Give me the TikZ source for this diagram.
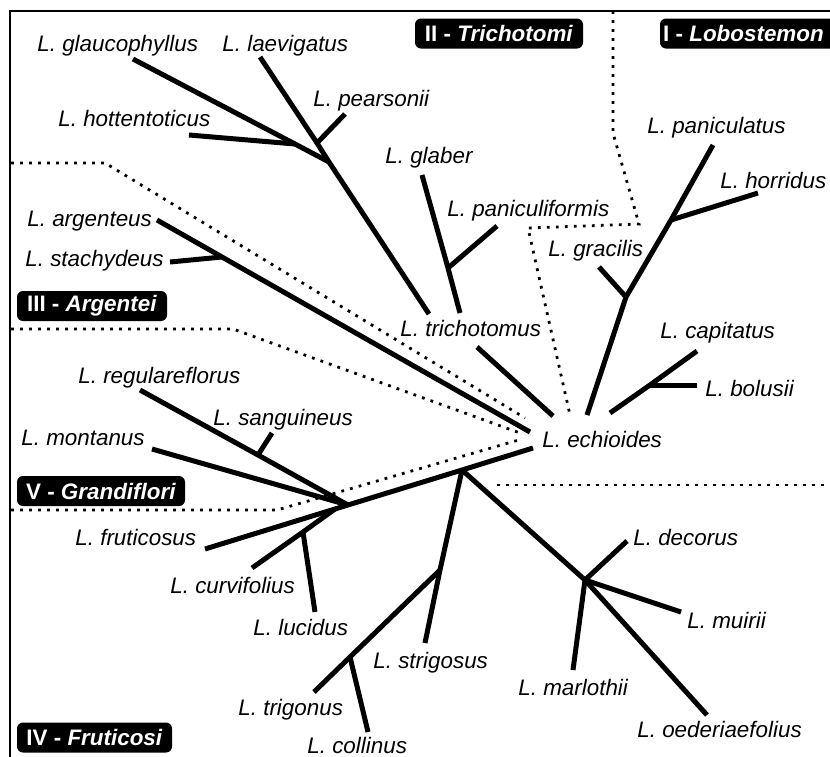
\documentclass[tikz,border=0pt]{standalone}
\usepackage{fontspec}
\setmainfont{Liberation Sans}
\begin{document}
\begin{tikzpicture}[x=0.5pt,y=-0.5pt,
  branch/.style={line width=2.5pt},
  sep/.style={line width=1.4pt, dash pattern=on 1.4pt off 3.1pt},
  frame/.style={line width=0.6pt},
  lab/.style={anchor=base west, inner sep=0pt, font=\fontsize{11.2pt}{13pt}\selectfont\itshape},
  grp/.style={fill=black, text=white, rounded corners=3pt, minimum height=15pt, inner sep=0pt,
    font=\fontsize{11.2pt}{13pt}\selectfont\bfseries}]
\useasboundingbox (0,0) rectangle (830,756);
\clip (0,0) rectangle (830,756);

% frame
\coordinate (fBL) at (10,760);
\coordinate (fTL) at (10,11);
\coordinate (fTR) at (834,11);
\draw[frame] (fBL) -- (fTL) -- (fTR);

% separators
\coordinate (d1a) at (613,11);
\coordinate (d1b) at (613,133);
\coordinate (d1c) at (639,224);
\coordinate (d1d) at (528,228);
\coordinate (d1e) at (570,415);
\draw[sep] (d1a) -- (d1b) -- (d1c) -- (d1d) -- (d1e);
\coordinate (d2a) at (11,163);
\coordinate (d2b) at (105,163);
\coordinate (d2c) at (525,418);
\draw[sep] (d2a) -- (d2b) -- (d2c);
\coordinate (d3a) at (11,329);
\coordinate (d3b) at (233,329);
\coordinate (d3c) at (520,433);
\draw[sep] (d3a) -- (d3b) -- (d3c);
\coordinate (d4a) at (11,510);
\coordinate (d4b) at (277,510);
\coordinate (d4c) at (522,439);
\draw[sep] (d4a) -- (d4b) -- (d4c);
\coordinate (d5a) at (497,485);
\coordinate (d5b) at (834,485);
\draw[sep] (d5a) -- (d5b);

% group labels
\node[grp, minimum width=84pt] (gII) at (499,33.5) {II - \textit{Trichotomi}};
\node[grp, minimum width=90pt] (gI) at (750,33.5) {\hspace*{-6.5pt}I - \textit{Lobostemon}};
\node[grp, minimum width=75pt] (gIII) at (92,306) {III - \textit{Argentei}};
\node[grp, minimum width=84pt] (gV) at (101,491) {V - \textit{Grandiflori}};
\node[grp, minimum width=77.5pt] (gIV) at (94.5,737.5) {IV - \textit{Fruticosi}};

% species labels
\node[lab] (Lgla) at (37,51) {L. glaucophyllus};
\node[lab] (Llae) at (222,51) {L. laevigatus};
\node[lab] (Lpea) at (313,106) {L. pearsonii};
\node[lab] (Lhot) at (58,126) {L. hottentoticus};
\node[lab] (Lglb) at (385,163) {L. glaber};
\node[lab] (Lpan) at (447,216) {L. paniculiformis};
\node[lab] (Lpac) at (647,133) {L. paniculatus};
\node[lab] (Lhor) at (720,188) {L. horridus};
\node[lab] (Lgra) at (548,256) {L. gracilis};
\node[lab] (Lcap) at (660,338) {L. capitatus};
\node[lab] (Lbol) at (705,396) {L. bolusii};
\node[lab] (Lech) at (542,447) {L. echioides};
\node[lab] (Ltri) at (400,336) {L. trichotomus};
\node[lab] (Larg) at (27,226) {L. argenteus};
\node[lab] (Lsta) at (25,266) {L. stachydeus};
\node[lab] (Lreg) at (78,383) {L. regulareflorus};
\node[lab] (Lsan) at (213,425) {L. sanguineus};
\node[lab] (Lmon) at (21,445) {L. montanus};
\node[lab] (Lfru) at (75,545) {L. fruticosus};
\node[lab] (Lcur) at (170,593) {L. curvifolius};
\node[lab] (Lluc) at (253,635) {L. lucidus};
\node[lab] (Lstr) at (373,668) {L. strigosus};
\node[lab] (Ltrg) at (238,715) {L. trigonus};
\node[lab] (Lcol) at (307,753) {L. collinus};
\node[lab] (Ldec) at (633,545) {L. decorus};
\node[lab] (Lmui) at (687,628) {L. muirii};
\node[lab] (Lmar) at (518,695) {L. marlothii};
\node[lab] (Loed) at (637,737) {L. oederiaefolius};

% group II branches
\coordinate (gla) at (133,59);
\coordinate (hot) at (189,135);
\coordinate (hJ) at (295,144);
\coordinate (gJ) at (329,162);
\coordinate (lae) at (260,57);
\coordinate (pJ) at (317,143);
\coordinate (pea) at (345,114);
\coordinate (trT) at (429,314);
\draw[branch] (gla) -- (hJ) -- (gJ);
\draw[branch] (hot) -- (hJ);
\draw[branch] (lae) -- (pJ) -- (gJ) -- (trT);
\draw[branch] (pea) -- (pJ);
\coordinate (glb) at (422,175);
\coordinate (paJ) at (448,268);
\coordinate (pan) at (497,226);
\coordinate (glbB) at (460,313);
\draw[branch] (glb) -- (paJ) -- (glbB);
\draw[branch] (pan) -- (paJ);
\coordinate (trA) at (477,347);
\coordinate (trB) at (553,416);
\draw[branch] (trA) -- (trB);

% group III
\coordinate (arg) at (157,220);
\coordinate (argE) at (530,432);
\coordinate (stJ) at (222,257);
\coordinate (sta) at (170,262);
\draw[branch] (arg) -- (stJ) -- (argE);
\draw[branch] (sta) -- (stJ);

% group I
\coordinate (lobE) at (587,415);
\coordinate (J1) at (626,297);
\coordinate (gra) at (599,267);
\coordinate (hJ1) at (671,220);
\coordinate (hor) at (758,193);
\coordinate (pac) at (713,145);
\draw[branch] (lobE) -- (J1) -- (hJ1) -- (pac);
\draw[branch] (gra) -- (J1);
\draw[branch] (hor) -- (hJ1);
\coordinate (capE) at (610,413);
\coordinate (bJ) at (650,385);
\coordinate (cap) at (697,351);
\coordinate (bol) at (697,385);
\draw[branch] (capE) -- (bJ) -- (cap);
\draw[branch] (bol) -- (bJ);

% lower groups
\coordinate (mE) at (533,448);
\coordinate (J4) at (462,470);
\coordinate (J5) at (348,505);
\coordinate (cJ) at (335,509);
\coordinate (fru) at (205,549);
\draw[branch] (mE) -- (J4) -- (J5) -- (cJ) -- (fru);
\coordinate (reg) at (140,390);
\coordinate (mon) at (152,449);
\coordinate (sJ) at (258,455);
\coordinate (san) at (272,433);
\draw[branch] (reg) -- (sJ) -- (J5);
\draw[branch] (mon) -- (J5);
\draw[branch] (san) -- (sJ);
\coordinate (lJ) at (303,532);
\coordinate (cur) at (252,568);
\coordinate (luc) at (315,612);
\draw[branch] (cJ) -- (lJ) -- (cur);
\draw[branch] (lJ) -- (luc);
\coordinate (tJ) at (440,570);
\coordinate (str) at (425,643);
\coordinate (coJ) at (350,657);
\coordinate (trg) at (314,692);
\coordinate (col) at (368,732);
\draw[branch] (J4) -- (tJ) -- (str);
\draw[branch] (tJ) -- (coJ) -- (trg);
\draw[branch] (coJ) -- (col);
\coordinate (J6) at (585,580);
\coordinate (dec) at (627,541);
\coordinate (mui) at (681,612);
\coordinate (mar) at (573,670);
\coordinate (oed) at (707,715);
\draw[branch] (J4) -- (J6) -- (oed);
\draw[branch] (J6) -- (dec);
\draw[branch] (J6) -- (mui);
\draw[branch] (J6) -- (mar);
\end{tikzpicture}
\end{document}
